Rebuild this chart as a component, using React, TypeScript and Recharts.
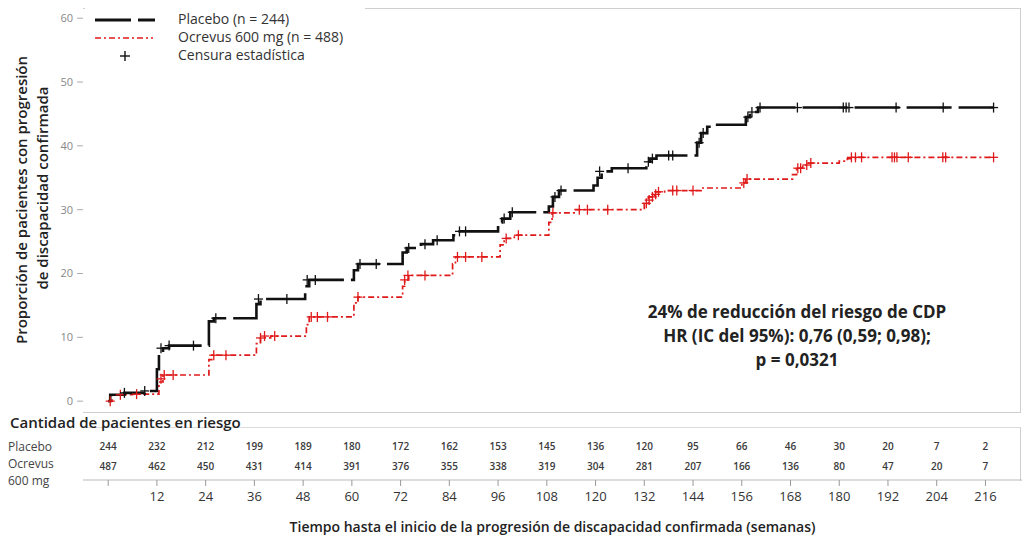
// Kaplan-Meier: proporción de pacientes con progresión de discapacidad confirmada
import { ComposedChart, Line, Scatter, XAxis, YAxis } from "recharts";

// ---------------------------------------------------------------------------
// Data
// ---------------------------------------------------------------------------
const placeboStepT = [
  0, 0.5, 4, 9, 12, 12.5, 13.5, 15, 24.8, 26, 36.5, 37.5, 48.5, 49.5, 60.5,
  61.5, 72.5, 73.5, 77, 80, 85, 86, 96, 97, 99, 108.5, 109.5, 111, 119.5,
  120.5, 121.5, 124, 132.5, 133.5, 135, 145, 146, 147.5, 149, 157, 158, 160,
  218,
];
const placeboStepV = [
  0, 1.0, 1.3, 1.6, 5.0, 7.5, 8.3, 8.7, 12.5, 13.0, 15.2, 16.0, 18.0, 19.0,
  20.5, 21.5, 23.3, 24.0, 24.6, 25.2, 26.0, 26.6, 28.0, 28.6, 29.6, 30.5,
  32.0, 33.0, 33.8, 35.0, 36.0, 36.5, 37.5, 38.0, 38.5, 40.5, 42.0, 43.0,
  43.3, 44.5, 45.3, 46.0, 46.0,
];

const ocrevusStepT = [
  0, 1, 6, 12.5, 13.5, 24.8, 25.5, 36.5, 37.5, 40, 48.8, 49.5, 60.5, 61.5,
  72.5, 73, 74, 84.8, 85.5, 96.5, 97.5, 100, 108.5, 109.3, 115, 132, 133,
  134.5, 137, 146, 156, 157, 168.5, 169.5, 171, 172.5, 180, 182, 184, 218,
];
const ocrevusStepV = [
  0, 1.0, 1.1, 3.0, 4.1, 6.5, 7.2, 9.0, 9.9, 10.2, 12.0, 13.2, 15.4, 16.3,
  18.0, 19.0, 19.7, 21.5, 22.6, 24.5, 25.5, 26.0, 28.0, 29.5, 30.0, 31.0,
  32.0, 32.8, 33.0, 33.4, 34.2, 34.8, 35.5, 36.5, 37.0, 37.3, 37.6, 38.0,
  38.2, 38.2,
];

// censoring marks (+)
const placeboCensorT = [
  4, 9, 13, 15, 21, 26.5, 37, 44, 49, 51, 62, 66, 74, 78, 81, 86.5, 88,
  97.5, 99.5, 110, 111.5, 121, 128, 133, 134, 138, 139, 145.5, 146.5, 157.5,
  158.5, 160.5, 169.7, 181, 181.7, 182.4, 194, 205.6, 218,
];
const placeboCensorV = [
  1.3, 1.6, 8.3, 8.7, 8.7, 13.0, 16.0, 16.0, 19.0, 19.0, 21.5, 21.5, 24.0,
  24.6, 25.2, 26.6, 26.6, 28.6, 29.6, 32.0, 33.0, 36.0, 36.5, 37.5, 38.0,
  38.5, 38.5, 40.5, 42.0, 44.5, 45.3, 46.0, 46.0, 46.0, 46.0, 46.0, 46.0,
  46.0, 46.0,
];

const ocrevusCensorT = [
  0.5, 3, 7, 13, 13.8, 16, 26, 29, 37.5, 38.5, 41, 50, 51.5, 54, 61.5, 73,
  73.8, 78, 86, 88, 92, 98, 101, 109.5, 116, 118, 123, 132.5, 133.2, 134,
  134.8, 135.5, 139, 140, 144, 156.5, 157.3, 169.8, 170.5, 172, 173, 183,
  184, 185.5, 193, 193.6, 194.2, 197, 205.5, 206.2, 218,
];
const ocrevusCensorV = [
  0, 1.0, 1.1, 3.5, 4.1, 4.1, 7.2, 7.2, 9.9, 10.2, 10.2, 13.2, 13.2, 13.2,
  16.3, 19.0, 19.7, 19.7, 22.6, 22.6, 22.6, 25.5, 26.0, 29.5, 30.0, 30.0,
  30.0, 31.0, 31.5, 32.0, 32.4, 32.8, 33.0, 33.0, 33.0, 34.2, 34.8, 36.5,
  36.5, 37.0, 37.3, 38.2, 38.2, 38.2, 38.2, 38.2, 38.2, 38.2, 38.2, 38.2,
  38.2,
];

// number at risk
const weekTicks = [
  0, 12, 24, 36, 48, 60, 72, 84, 96, 108, 120, 132, 144, 156, 168, 180, 192,
  204, 216,
];
const placeboAtRisk = [
  244, 232, 212, 199, 189, 180, 172, 162, 153, 145, 136, 120, 95, 66, 46, 30,
  20, 7, 2,
];
const ocrevusAtRisk = [
  487, 462, 450, 431, 414, 391, 376, 355, 338, 319, 304, 281, 207, 166, 136,
  80, 47, 20, 7,
];

const yTicks = [0, 10, 20, 30, 40, 50, 60];

// ---------------------------------------------------------------------------
const FONT = '"Open Sans", "DejaVu Sans", sans-serif';
const BLACK = "#111111";
const RED = "#e01a1a";
const X_DOMAIN: [number, number] = [-6.2, 225];

const toPoints = (t: number[], v: number[]) =>
  t.map((x, i) => ({ t: x, v: v[i] }));

const placeboLine = toPoints(placeboStepT, placeboStepV);
const ocrevusLine = toPoints(ocrevusStepT, ocrevusStepV);
const placeboCensor = toPoints(placeboCensorT, placeboCensorV);
const ocrevusCensor = toPoints(ocrevusCensorT, ocrevusCensorV);

const riskRows = [
  ...weekTicks.map((t, i) => ({ t, row: 0.64, n: placeboAtRisk[i] })),
  ...weekTicks.map((t, i) => ({ t, row: 0.27, n: ocrevusAtRisk[i] })),
];

// "+" censor symbol
const CensorMark = ({ cx, cy, color }: any) => {
  if (cx == null || cy == null) return null;
  return (
    <g stroke={color} strokeWidth={1.3}>
      <line x1={cx - 4.5} x2={cx + 4.5} y1={cy} y2={cy} />
      <line x1={cx} x2={cx} y1={cy - 5} y2={cy + 5} />
    </g>
  );
};

const RiskNumber = ({ cx, cy, payload }: any) => (
  <text
    x={cx}
    y={cy}
    textAnchor="middle"
    dominantBaseline="central"
    fontSize={10}
    fontWeight={600}
    fill="#3a3a3a"
    fontFamily={FONT}
  >
    {payload.n}
  </text>
);

// legend box, top-left
const KmLegend = () => (
  <div
    style={{
      position: "absolute",
      left: 85,
      top: 6,
      background: "#fff",
      width: 280,
      height: 62,
      fontFamily: FONT,
      fontSize: 14,
      color: "#333",
    }}
  >
    <svg width={90} height={62} style={{ position: "absolute", left: 0, top: 0 }}>
      <line x1={10} x2={70} y1={14} y2={14} stroke={BLACK} strokeWidth={3} strokeDasharray="36 7" />
      <line x1={10} x2={68} y1={32} y2={32} stroke={RED} strokeWidth={1.6} strokeDasharray="6 3 2 3" />
      <line x1={35} x2={45} y1={50} y2={50} stroke={BLACK} strokeWidth={1.4} />
      <line x1={40} x2={40} y1={45} y2={55} stroke={BLACK} strokeWidth={1.4} />
    </svg>
    <div style={{ position: "absolute", left: 93, top: 4, lineHeight: "18px" }}>
      <div>Placebo (n = 244)</div>
      <div>Ocrevus 600 mg (n = 488)</div>
      <div>Censura estadística</div>
    </div>
  </div>
);

const YTitle = () => (
  <g fontFamily={FONT} fontSize={15} fontWeight={600} fill="#222">
    <text x={21} y={200} textAnchor="middle" dominantBaseline="central" transform="rotate(-90 21 200)">
      Proporción de pacientes con progresión
    </text>
    <text x={42} y={188} textAnchor="middle" dominantBaseline="central" transform="rotate(-90 42 188)">
      de discapacidad confirmada
    </text>
  </g>
);

export default function App() {
  return (
    <div
      style={{
        position: "absolute",
        left: 0,
        top: 0,
        width: 1025,
        height: 537,
        background: "#fff",
        fontFamily: FONT,
        overflow: "hidden",
      }}
    >
      {/* plot frame */}
      <div
        style={{
          position: "absolute",
          left: 83,
          top: 8,
          width: 937,
          height: 403,
          borderTop: "1px solid #cfcfcf",
          borderRight: "1px solid #cfcfcf",
          borderBottom: "1px solid #cfcfcf",
        }}
      />
      {/* risk table frame */}
      <div
        style={{
          position: "absolute",
          left: 83,
          top: 427,
          width: 937,
          height: 53,
          borderTop: "1px solid #dcdcdc",
          borderRight: "1px solid #cfcfcf",
        }}
      />

      <div style={{ position: "absolute", left: 0, top: 0 }}>
        <ComposedChart
          width={1025}
          height={420}
          margin={{ top: 8, right: 3, bottom: 8, left: 0 }}
        >
          <XAxis
            type="number"
            dataKey="t"
            domain={X_DOMAIN}
            allowDataOverflow
            hide
          />
          <YAxis
            type="number"
            dataKey="v"
            domain={[-1.7, 61.6]}
            ticks={yTicks}
            width={83}
            axisLine={false}
            tickLine={{ stroke: "#aaa" }}
            tickSize={6}
            tickMargin={4}
            tick={{ fontSize: 11, fill: "#888", fontFamily: FONT }}
            label={<YTitle />}
          />
          <Line
            data={ocrevusLine}
            dataKey="v"
            type="stepAfter"
            stroke={RED}
            strokeWidth={1.7}
            strokeDasharray="6 3 2 3"
            dot={false}
            isAnimationActive={false}
          />
          <Line
            data={placeboLine}
            dataKey="v"
            type="stepAfter"
            stroke={BLACK}
            strokeWidth={2.6}
            strokeDasharray="45 7"
            dot={false}
            isAnimationActive={false}
          />
          <Scatter
            data={ocrevusCensor}
            dataKey="v"
            shape={(p: any) => <CensorMark {...p} color={RED} />}
            isAnimationActive={false}
          />
          <Scatter
            data={placeboCensor}
            dataKey="v"
            shape={(p: any) => <CensorMark {...p} color={BLACK} />}
            isAnimationActive={false}
          />
        </ComposedChart>
      </div>

      <KmLegend />

      {/* annotation */}
      <div
        style={{
          position: "absolute",
          left: 597,
          top: 300,
          width: 400,
          textAlign: "center",
          fontSize: 17,
          fontWeight: 700,
          lineHeight: "24px",
          color: "#222",
        }}
      >
        <div>24% de reducción del riesgo de CDP</div>
        <div>HR (IC del 95%): 0,76 (0,59; 0,98);</div>
        <div>p = 0,0321</div>
      </div>

      {/* risk table labels */}
      <div
        style={{
          position: "absolute",
          left: 10,
          top: 412,
          fontSize: 15,
          fontWeight: 600,
          color: "#222",
        }}
      >
        Cantidad de pacientes en riesgo
      </div>
      <div
        style={{
          position: "absolute",
          left: 8,
          top: 438,
          fontSize: 12,
          lineHeight: "17px",
          color: "#444",
        }}
      >
        <div>Placebo</div>
        <div>Ocrevus</div>
        <div>600 mg</div>
      </div>

      <div style={{ position: "absolute", left: 0, top: 420 }}>
        <ComposedChart
          width={1025}
          height={117}
          margin={{ top: 7, right: 3, bottom: 0, left: 83 }}
        >
          <XAxis
            type="number"
            dataKey="t"
            domain={X_DOMAIN}
            allowDataOverflow
            ticks={weekTicks}
            interval={0}
            height={57}
            tickFormatter={(t: number) => (t === 0 ? "" : String(t))}
            axisLine={{ stroke: "#bbb" }}
            tickLine={{ stroke: "#999" }}
            tickSize={6}
            tickMargin={6}
            tick={{ fontSize: 13, fill: "#333", fontFamily: FONT }}
            label={{
              value:
                "Tiempo hasta el inicio de la progresión de discapacidad confirmada (semanas)",
              position: "insideBottom",
              offset: 5,
              style: {
                fontSize: 14,
                fontWeight: 600,
                fill: "#222",
                fontFamily: FONT,
              },
            }}
          />
          <YAxis type="number" dataKey="row" domain={[0, 1]} hide />
          <Scatter
            data={riskRows}
            dataKey="row"
            shape={<RiskNumber />}
            isAnimationActive={false}
          />
        </ComposedChart>
      </div>
    </div>
  );
}
